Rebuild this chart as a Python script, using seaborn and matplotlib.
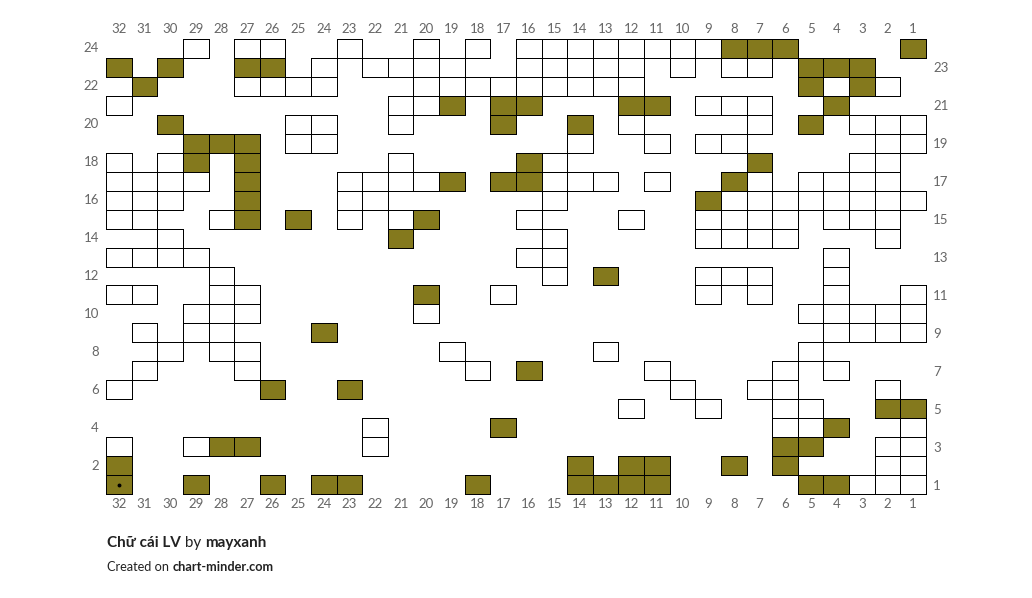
import matplotlib
matplotlib.use("Agg")
import numpy as np
import pandas as pd
import seaborn as sns
import matplotlib.pyplot as plt
from matplotlib.colors import ListedColormap

# ---- data ----
columns = list(range(32, 0, -1))   # left -> right
rows = list(range(24, 0, -1))      # top -> bottom

white_cells = {
    24: [29, 27, 26, 23, 20, 18, 16, 15, 14, 13, 12, 11, 10, 9],
    23: [24, 22, 21, 20, 19, 16, 15, 14, 13, 12, 10, 8, 7],
    22: [27, 26, 25, 24, 20, 19, 18, 17, 16, 15, 14, 13, 12, 4, 2],
    21: [32, 21, 20, 9, 8, 7],
    20: [25, 24, 21, 12, 7, 3, 2, 1],
    19: [25, 24, 14, 11, 9, 8, 2, 1],
    18: [32, 30, 21, 15, 3, 2],
    17: [32, 31, 30, 29, 23, 22, 21, 20, 15, 14, 13, 11, 7, 5, 4, 3, 2],
    16: [32, 31, 30, 23, 22, 15, 8, 7, 6, 5, 4, 3, 2, 1],
    15: [32, 31, 28, 23, 21, 16, 12, 9, 8, 7, 6, 4, 3, 2],
    14: [30, 15, 9, 8, 7, 6, 2],
    13: [32, 31, 30, 29, 16, 15, 4],
    12: [28, 15, 9, 8, 7, 4],
    11: [32, 31, 28, 27, 17, 9, 7, 4, 1],
    10: [29, 28, 27, 20, 5, 4, 3, 2, 1],
    9: [31, 29, 28, 4, 3, 2, 1],
    8: [30, 28, 27, 19, 13, 5],
    7: [31, 27, 18, 11, 6, 4],
    6: [32, 10, 7, 6, 2],
    5: [12, 9, 6, 5],
    4: [22, 6, 5, 1],
    3: [32, 29, 22, 2, 1],
    2: [2, 1],
    1: [3, 2, 1],
}

olive_cells = {
    24: [8, 7, 6, 1],
    23: [32, 30, 27, 26, 5, 4, 3],
    22: [31, 5, 3],
    21: [19, 17, 16, 12, 11, 4],
    20: [30, 17, 14, 5],
    19: [29, 28, 27],
    18: [29, 27, 16, 7],
    17: [27, 19, 17, 16, 8],
    16: [27, 9],
    15: [27, 25, 20],
    14: [21],
    12: [13],
    11: [20],
    9: [24],
    7: [16],
    6: [26, 23],
    5: [2, 1],
    4: [17, 4],
    3: [28, 27, 6, 5],
    2: [32, 14, 12, 11, 8, 6],
    1: [32, 29, 26, 24, 23, 18, 14, 13, 12, 11, 5, 4],
}

marked_cell = (32, 1)  # small dot

title_main = "Chữ cái LV"
title_by = " by "
title_author = "mayxanh"
credit_pre = "Created on "
credit_site = "chart-minder.com"

# ---- build matrix ----
mat = np.zeros((len(rows), len(columns)))
for r, cols in white_cells.items():
    for c in cols:
        mat[rows.index(r), columns.index(c)] = 1
for r, cols in olive_cells.items():
    for c in cols:
        mat[rows.index(r), columns.index(c)] = 2
df = pd.DataFrame(mat, index=rows, columns=columns)
empty = (df == 0)

OLIVE = "#84791d"
LABEL_COLOR = "#666666"

sns.set_theme(style="white")
plt.rcParams["font.family"] = ["Lato", "DejaVu Sans"]

fig = plt.figure(figsize=(10.32, 5.98), dpi=100)
ax = fig.add_axes([106 / 1032, 1 - 494 / 598, 820 / 1032, 455 / 598])

sns.heatmap(df, mask=empty, cmap=ListedColormap(["white", OLIVE]),
            vmin=1, vmax=2, linewidths=0.65, linecolor="black",
            cbar=False, ax=ax)

# no borders on empty (masked) cells; keep outer borders unclipped
mesh = ax.collections[0]
edge = np.zeros((empty.size, 4))
edge[:, 3] = (~empty.values).ravel().astype(float)
mesh.set_edgecolor(edge)
mesh.set_clip_on(False)

# small dot
ax.plot(columns.index(marked_cell[0]) + 0.5, rows.index(marked_cell[1]) + 0.5,
        marker="o", markersize=1.8, color="black")

# x labels top & bottom
ax.set_xticks(np.arange(len(columns)) + 0.5)
ax.set_xticklabels([str(c) for c in columns], rotation=0)
ax.tick_params(axis="x", top=True, labeltop=True, bottom=True, labelbottom=True,
               length=0, pad=3, labelsize=9.5, labelcolor=LABEL_COLOR)

# y labels: even on left, odd on right
even_pos = [i + 0.5 for i, r in enumerate(rows) if r % 2 == 0]
odd_pos = [i + 0.5 for i, r in enumerate(rows) if r % 2 == 1]
ax.set_yticks(even_pos)
ax.set_yticklabels([str(r) for r in rows if r % 2 == 0], rotation=0)
ax.tick_params(axis="y", length=0, pad=5, labelsize=9.5, labelcolor=LABEL_COLOR)
ax.set_xlabel("")
ax.set_ylabel("")

ax2 = ax.twinx()
ax2.set_ylim(ax.get_ylim())
ax2.set_yticks(odd_pos)
ax2.set_yticklabels([str(r) for r in rows if r % 2 == 1])
ax2.tick_params(axis="y", length=0, pad=5, labelsize=9.5, labelcolor=LABEL_COLOR)
for s in ax2.spines.values():
    s.set_visible(False)
ax2.grid(False)

# titles
renderer = fig.canvas.get_renderer()


def text_run(x_px, y_px, parts, size):
    x = x_px
    for txt, weight in parts:
        t = fig.text(x / 1032, 1 - y_px / 598, txt, fontsize=size, weight=weight,
                     color="#222222", va="center", ha="left")
        bb = t.get_window_extent(renderer=renderer)
        x += bb.width


text_run(107, 543, [(title_main, "bold"), (title_by, "normal"), (title_author, "bold")], 11)
text_run(107, 567, [(credit_pre, "normal"), (credit_site, "bold")], 9.2)

fig.savefig("out.png", dpi=100)
